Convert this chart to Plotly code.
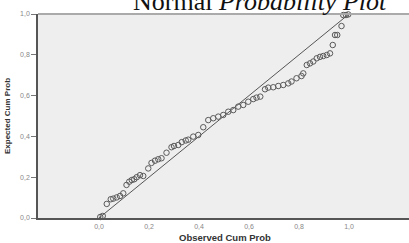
import plotly.graph_objects as go

observed = [0.005, 0.015, 0.031, 0.047, 0.057, 0.071, 0.084, 0.097, 0.110, 0.121,
            0.131, 0.141, 0.151, 0.164, 0.177, 0.197, 0.210, 0.224, 0.237, 0.250,
            0.270, 0.290, 0.300, 0.317, 0.331, 0.347, 0.357, 0.377, 0.397, 0.417,
            0.437, 0.457, 0.477, 0.497, 0.517, 0.537, 0.557, 0.577, 0.597, 0.617,
            0.630, 0.645, 0.664, 0.677, 0.697, 0.717, 0.737, 0.757, 0.770, 0.790,
            0.810, 0.817, 0.831, 0.844, 0.857, 0.871, 0.884, 0.897, 0.911, 0.924,
            0.935, 0.944, 0.953, 0.970, 0.977, 0.988, 0.997]
expected = [0.005, 0.010, 0.069, 0.092, 0.095, 0.101, 0.108, 0.121, 0.162, 0.178,
            0.186, 0.190, 0.200, 0.210, 0.206, 0.243, 0.270, 0.281, 0.288, 0.293,
            0.320, 0.347, 0.353, 0.358, 0.372, 0.380, 0.384, 0.399, 0.407, 0.445,
            0.480, 0.489, 0.497, 0.505, 0.521, 0.529, 0.546, 0.554, 0.570, 0.583,
            0.590, 0.595, 0.631, 0.639, 0.641, 0.647, 0.652, 0.660, 0.669, 0.685,
            0.696, 0.709, 0.750, 0.758, 0.767, 0.783, 0.790, 0.794, 0.799, 0.807,
            0.848, 0.897, 0.897, 0.941, 0.995, 0.995, 0.998]
ref_line = [0.0, 1.0]
ticks = [0.0, 0.2, 0.4, 0.6, 0.8, 1.0]

fig = go.Figure()
fig.add_trace(go.Scatter(x=ref_line, y=ref_line, mode="lines",
                         line=dict(color="#555555", width=1), hoverinfo="skip"))
fig.add_trace(go.Scatter(x=observed, y=expected, mode="markers",
                         marker=dict(symbol="circle-open", size=5.5,
                                     color="#5a5a5a", line=dict(width=1)),
                         cliponaxis=False))

fig.update_layout(
    width=409, height=243,
    margin=dict(l=38, r=0, t=14, b=25),
    paper_bgcolor="white", plot_bgcolor="#eeeeee",
    showlegend=False, separators=",.",
    xaxis=dict(range=[-0.244, 1.24], tickvals=ticks, tickformat=".1f",
               showgrid=False, zeroline=False, showline=True,
               linecolor="#555555", linewidth=1.5,
               ticks="", ticklabelstandoff=1,
               tickfont=dict(family="Arial", size=7, color="#888888"),
               automargin=False),
    yaxis=dict(range=[0, 1], tickvals=ticks, tickformat=".1f",
               showgrid=False, zeroline=False, showline=True,
               linecolor="#555555", linewidth=1.5,
               ticks="outside", ticklen=5, tickcolor="#777777",
               tickfont=dict(family="Arial", size=7, color="#888888"),
               title=dict(text="<b>Expected Cum Prob</b>", standoff=8,
                          font=dict(family="Arial", size=8, color="#333333")),
               automargin=False),
    shapes=[dict(type="line", xref="paper", yref="paper", x0=0, x1=1, y0=1, y1=1,
                 line=dict(color="#aaaaaa", width=2))],
    annotations=[
        dict(text="Normal <i>Probability Plot</i>", xref="paper", yref="paper",
             x=0.598, y=1.06, xanchor="center", yanchor="middle",
             showarrow=False,
             font=dict(family="Liberation Serif", size=26, color="#111111")),
        dict(text="<b>Observed Cum Prob</b>", xref="paper", yref="paper",
             x=0.504, y=-0.132, xanchor="center", yanchor="bottom",
             showarrow=False,
             font=dict(family="Arial", size=9.5, color="#333333")),
    ],
)

fig.write_html("out.html", config={"displayModeBar": False},
               post_script="document.body.style.margin='0';")
